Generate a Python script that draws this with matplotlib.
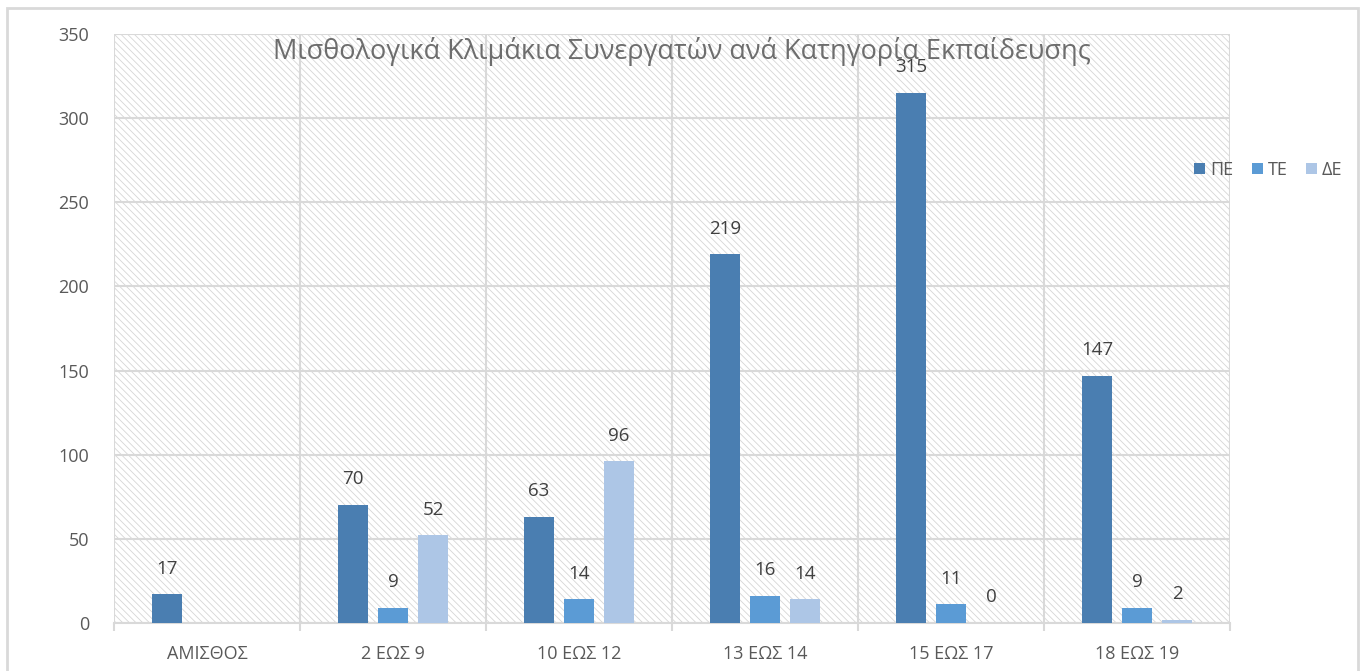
import numpy as np
import matplotlib.pyplot as plt
from matplotlib.patches import Rectangle

categories = ['ΑΜΙΣΘΟΣ', '2 ΕΩΣ 9', '10 ΕΩΣ 12', '13 ΕΩΣ 14', '15 ΕΩΣ 17', '18 ΕΩΣ 19']
pe = [17, 70, 63, 219, 315, 147]
te = [None, 9, 14, 16, 11, 9]
de = [None, 52, 96, 14, 0, 2]
series_names = ['ΠΕ', 'ΤΕ', 'ΔΕ']
colors = ['#4a7eb1', '#5b9bd5', '#adc6e6']

plt.rcParams['font.family'] = ['Open Sans', 'DejaVu Sans']
plt.rcParams['hatch.linewidth'] = 0.6

fig = plt.figure(figsize=(13.65, 6.71), dpi=100)
ax = fig.add_axes([114 / 1365, 48 / 671, 1116 / 1365, 589 / 671])

# outer chart border
fig.patches.append(Rectangle((7 / 1365, -0.02), 1351 / 1365, 1.008, transform=fig.transFigure,
                             fill=False, edgecolor='#d9d9d9', linewidth=2))

# hatched plot area
ax.add_patch(Rectangle((0, 0), 1, 1, transform=ax.transAxes, facecolor='white',
                       edgecolor='#d6d6d6', linewidth=0, hatch='\\\\\\\\\\', zorder=0))

x = np.arange(len(categories))
width = 0.165
offset = 0.215
for i, (vals, name, c) in enumerate(zip([pe, te, de], series_names, colors)):
    xs = [xx + (i - 1) * offset for xx, v in zip(x, vals) if v is not None]
    vs = [v for v in vals if v is not None]
    ax.bar(xs, vs, width, color=c, label=name, zorder=3)
    for xx, v in zip(xs, vs):
        ax.text(xx, v + 10, str(v), ha='center', va='bottom', fontsize=13.5, color='#404040', zorder=4)

ax.set_xlim(-0.5, len(categories) - 0.5)
ax.set_ylim(0, 350)
ax.set_yticks(range(0, 351, 50))
ax.set_xticks(x)
ax.set_xticklabels(categories)
ax.set_xticks(np.arange(-0.5, len(categories), 1), minor=True)
ax.tick_params(axis='x', which='major', length=0, pad=16, labelsize=13, labelcolor='#595959')
ax.tick_params(axis='x', which='minor', length=6, color='#d9d9d9', width=1.5)
ax.tick_params(axis='y', length=0, pad=18, labelsize=13, labelcolor='#595959')

ax.grid(axis='y', color='#d9d9d9', linewidth=1.5, zorder=1)
ax.grid(axis='x', which='minor', color='#d9d9d9', linewidth=1.5, zorder=1)
ax.set_axisbelow(True)
for s in ['top', 'right', 'left']:
    ax.spines[s].set_visible(False)
ax.spines['bottom'].set_color('#d9d9d9')
ax.spines['bottom'].set_linewidth(1.5)

ax.text(0.509, 0.995, 'Μισθολογικά Κλιμάκια Συνεργατών ανά Κατηγορία Εκπαίδευσης',
        transform=ax.transAxes, ha='center', va='top', fontsize=19.5, color='#6d6d6d', zorder=5)

fig.legend(loc='center left', bbox_to_anchor=(1178 / 1365, 1 - 170 / 671), ncol=3, frameon=False,
           fontsize=13, labelcolor='#595959', handlelength=0.6, handleheight=0.6,
           handletextpad=0.3, columnspacing=1.0)

fig.savefig('out.png', dpi=100)
